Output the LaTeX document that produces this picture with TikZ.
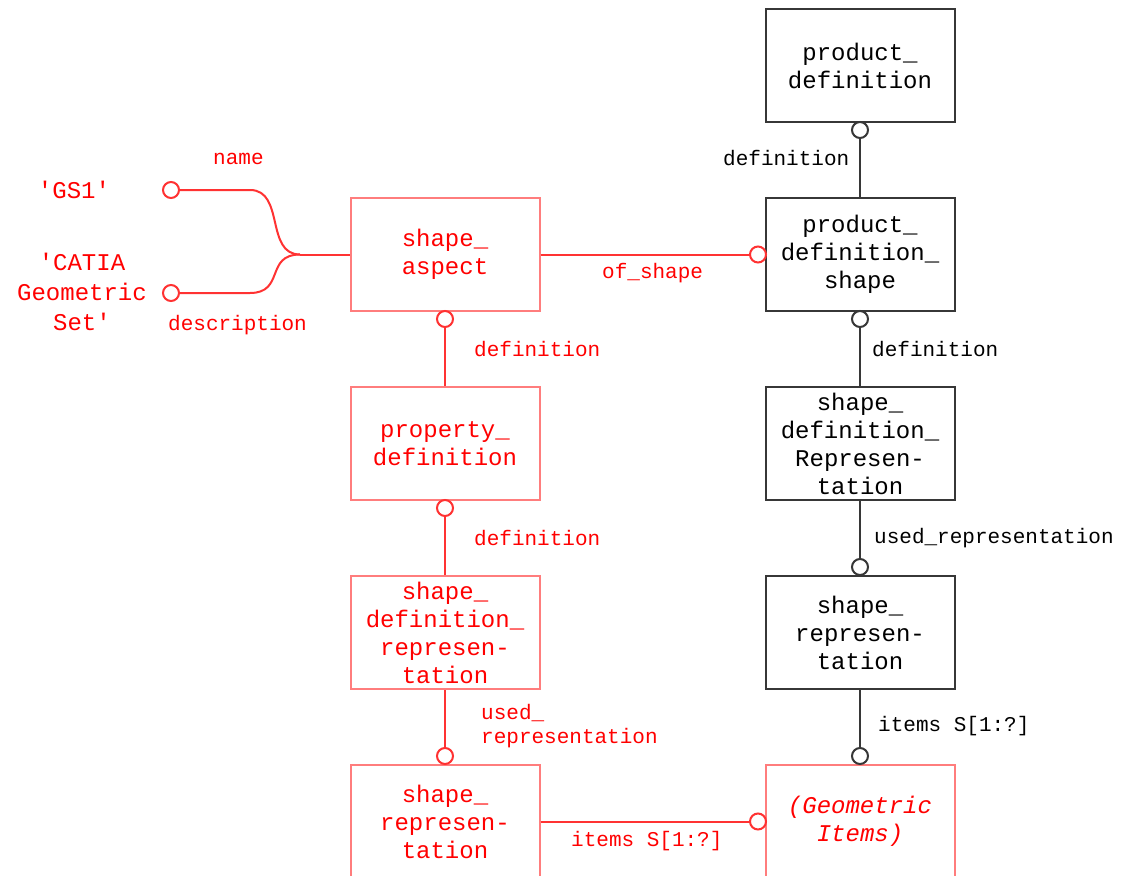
\documentclass[tikz,border=0pt]{standalone}
\usepackage{fontspec}
\setmainfont{Liberation Mono}
\definecolor{txtred}{RGB}{255,0,0}
\definecolor{linered}{RGB}{255,50,50}
\definecolor{boxred}{RGB}{255,125,125}
\definecolor{boxgray}{RGB}{55,55,55}
\tikzset{
  ent/.style={draw, minimum width=189pt, minimum height=113pt, line width=2pt,
    align=center, inner sep=0pt, font=\fontsize{24}{28}\selectfont},
  blkent/.style={ent, draw=boxgray, text=black},
  redent/.style={ent, draw=boxred, text=txtred},
  lbl/.style={inner sep=0pt, font=\fontsize{21}{24}\selectfont},
  redlbl/.style={lbl, text=txtred},
  val/.style={inner sep=0pt, align=center, text=txtred, font=\fontsize{24}{30}\selectfont},
  ring/.style={circle, line width=2pt, minimum size=16pt, inner sep=0pt, fill=white},
  blkring/.style={ring, draw=boxgray},
  redring/.style={ring, draw=linered},
  blkline/.style={draw=boxgray, line width=2pt},
  redline/.style={draw=linered, line width=2pt},
}
\begin{document}
\begin{tikzpicture}[x=1pt, y=-1pt]
\clip (0,0) rectangle (1121,875);
\fill[white] (0,0) rectangle (1121,875);

% entity boxes, right column
\node[blkent] (pd)  at (860,65.5)  {product\_\\definition};
\node[blkent] (pds) at (860,254.5) {product\_\\definition\_\\shape};
\node[blkent] (sdR) at (860,443.5) {shape\_\\definition\_\\Represen-\\tation};
\node[blkent] (bsr) at (860,632.5) {shape\_\\represen-\\tation};
\node[redent] (geo) at (860,821.5) {\itshape(Geometric\\\itshape Items)};

% entity boxes, left column
\node[redent] (sa)   at (445,254.5) {shape\_\\aspect};
\node[redent] (pdef) at (445,443.5) {property\_\\definition};
\node[redent] (sdr)  at (445,632.5) {shape\_\\definition\_\\represen-\\tation};
\node[redent] (rsr)  at (445,821.5) {shape\_\\represen-\\tation};

% attribute values
\node[val] (gs1) at (74,190) {\textquotesingle GS1\textquotesingle};
\node[val] (cat) at (82,292) {\textquotesingle CATIA\\Geometric\\Set\textquotesingle};

% relationship end circles
\node[blkring] (r1) at (860,130) {};
\node[blkring] (r2) at (860,319) {};
\node[blkring] (r3) at (860,567) {};
\node[blkring] (r4) at (860,756) {};
\node[redring] (r5) at (445,319) {};
\node[redring] (r6) at (445,508) {};
\node[redring] (r7) at (445,756) {};
\node[redring] (r8) at (758,254.5) {};
\node[redring] (r9) at (758,821.5) {};
\node[redring] (rg) at (171,190) {};
\node[redring] (rc) at (171,293) {};
\coordinate (j) at (300,254.5);

% connectors
\draw[blkline] (r1.south) -- (pds.north);
\draw[blkline] (r2.south) -- (sdR.north);
\draw[blkline] (sdR.south) -- (r3.north);
\draw[blkline] (bsr.south) -- (r4.north);
\draw[redline] (r5.south) -- (pdef.north);
\draw[redline] (r6.south) -- (sdr.north);
\draw[redline] (sdr.south) -- (r7.north);
\draw[redline] (sa.east) -- (r8.west);
\draw[redline] (rsr.east) -- (r9.west);
\draw[redline] (rg.east) -- (250,190) .. controls (285,190) and (265,254.5) .. (j);
\draw[redline] (rc.east) -- (250,293) .. controls (285,293) and (265,254.5) .. (j);
\draw[redline] (j) -- (sa.west);

% attribute labels
\node[lbl, anchor=west] (l1) at (723,158) {definition};
\node[lbl, anchor=west] (l2) at (872,349) {definition};
\node[lbl, anchor=west] (l3) at (874,538) {used\_representation};
\node[lbl, anchor=west] (l4) at (878,726) {items S[1:?]};
\node[redlbl, anchor=west] (l5) at (474,349) {definition};
\node[redlbl, anchor=west] (l6) at (474,538) {definition};
\node[redlbl, anchor=west, align=left] (l7) at (481,726) {used\_\\representation};
\node[redlbl, anchor=west] (l8) at (571,841) {items S[1:?]};
\node[redlbl, anchor=west] (l9) at (602,273) {of\_shape};
\node[redlbl, anchor=west] (l10) at (213,159) {name};
\node[redlbl, anchor=west] (l11) at (168,325) {description};
\end{tikzpicture}
\end{document}
